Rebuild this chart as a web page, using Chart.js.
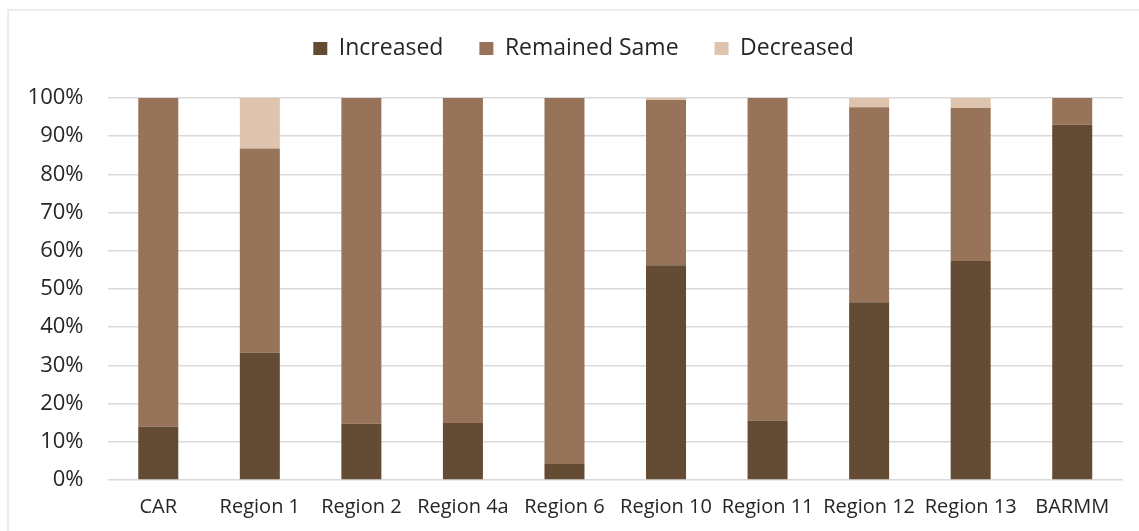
<!DOCTYPE html>
<html>
<head>
<meta charset="utf-8">
<script src="https://cdn.jsdelivr.net/npm/chart.js@4.4.1/dist/chart.umd.min.js"></script>
<style>
  html, body { margin: 0; padding: 0; background: #fff; }
  body { width: 1139px; height: 531px; position: relative; overflow: hidden; }
  #frame {
    position: absolute; left: 7px; top: 9px; width: 1200px; height: 600px;
    border-left: 2px solid #ececec; border-top: 2px solid #ececec;
  }
  #wrap { position: absolute; left: 0; top: 0; width: 1139px; height: 531px; }
</style>
</head>
<body>
<div id="frame"></div>
<div id="wrap"><canvas id="chart"></canvas></div>
<script>
// Data
const regions = ['CAR', 'Region 1', 'Region 2', 'Region 4a', 'Region 6', 'Region 10', 'Region 11', 'Region 12', 'Region 13', 'BARMM'];
const increased = [14.0, 33.4, 14.7, 14.9, 4.2, 56.2, 15.6, 46.5, 57.3, 93.0];
const remainedSame = [86.0, 53.4, 85.3, 85.1, 95.8, 43.3, 84.4, 51.1, 40.1, 7.0];
const decreased = [0, 13.2, 0, 0, 0, 0.5, 0, 2.4, 2.6, 0];
const yTicks = [0, 10, 20, 30, 40, 50, 60, 70, 80, 90, 100];

const textColor = '#262626';
const fontFamily = "'Open Sans', sans-serif";

// push the plot area down below the legend, nudge legend right over the plot
const legendGap = {
  id: 'legendGap',
  beforeInit(chart) {
    const fit = chart.legend.fit;
    chart.legend.fit = function() {
      fit.call(this);
      this.height += 28;
    };
  },
  afterUpdate(chart) {
    const lg = chart.legend;
    lg.left += 22;
    lg.right += 22;
  }
};

new Chart(document.getElementById('chart'), {
  type: 'bar',
  data: {
    labels: regions,
    datasets: [
      { label: 'Increased', data: increased, backgroundColor: '#644b34' },
      { label: 'Remained Same', data: remainedSame, backgroundColor: '#977459' },
      { label: 'Decreased', data: decreased, backgroundColor: '#dec3ad' }
    ]
  },
  plugins: [legendGap],
  options: {
    responsive: true,
    maintainAspectRatio: false,
    animation: false,
    layout: { padding: { top: 1, right: 16, left: 0, bottom: 0 } },
    datasets: {
      bar: { barPercentage: 0.394, categoryPercentage: 1.0, borderWidth: 0 }
    },
    plugins: {
      legend: {
        position: 'top',
        labels: {
          boxWidth: 14,
          boxHeight: 13,
          padding: 36,
          color: textColor,
          font: { family: fontFamily, size: 23 }
        }
      },
      tooltip: { enabled: false }
    },
    scales: {
      x: {
        stacked: true,
        grid: { display: false, drawTicks: false },
        border: { display: false },
        ticks: {
          padding: 15,
          color: textColor,
          maxRotation: 0,
          autoSkip: false,
          font: { family: fontFamily, size: 20 }
        },
        afterFit: scale => { scale.height = 51; }
      },
      y: {
        stacked: true,
        min: 0,
        max: 100,
        afterBuildTicks: scale => { scale.ticks = yTicks.map(v => ({ value: v })); },
        grid: { color: '#d9d9d9', lineWidth: 1.5, drawTicks: false },
        border: { display: false },
        ticks: {
          padding: 24,
          color: textColor,
          font: { family: fontFamily, size: 22 },
          callback: v => v + '%'
        },
        afterFit: scale => { scale.width = 107.5; }
      }
    }
  }
});
</script>
</body>
</html>
